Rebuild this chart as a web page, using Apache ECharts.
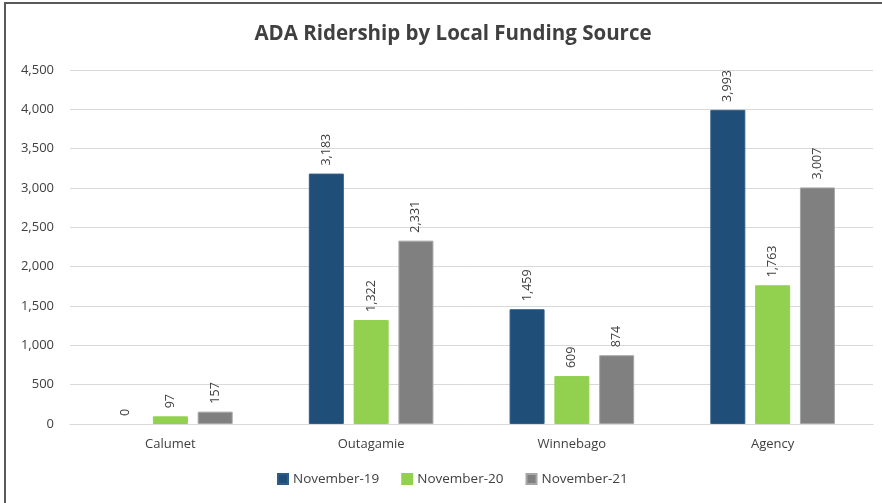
<!DOCTYPE html>
<html>
<head>
<meta charset="utf-8">
<script src="https://cdn.jsdelivr.net/npm/echarts@6/dist/echarts.min.js"></script>
<style>
    html, body { margin: 0; padding: 0; background: #fff; }
    #frame {
        position: absolute; left: 4px; top: 2px; width: 890px; height: 510px;
        border-left: 2px solid #595959; border-top: 2px solid #595959;
        box-sizing: border-box;
    }
    #chart { position: absolute; left: 0; top: 0; width: 882px; height: 503px; }
</style>
</head>
<body>
<div id="frame"></div>
<div id="chart"></div>
<script>
const categories = ['Calumet', 'Outagamie', 'Winnebago', 'Agency'];
const seriesNames = ['November-19', 'November-20', 'November-21'];
const nov19 = [0, 3183, 1459, 3993];
const nov20 = [97, 1322, 609, 1763];
const nov21 = [157, 2331, 874, 3007];
const colors = ['#1f4e79', '#92d050', '#808080'];
const borders = ['#2e5d87', '#92d050', '#a6a6a6'];

const fmt = (v) => v.toLocaleString('en-US');
const font = '"Open Sans", "Liberation Sans", sans-serif';

const makeSeries = (i, data) => ({
    name: seriesNames[i],
    type: 'bar',
    data: data.map(v => ({value: v, itemStyle: {borderWidth: v === 0 ? 0 : 1}})),
    barWidth: 35,
    barGap: '28%',
    itemStyle: {color: colors[i], borderColor: borders[i], borderWidth: 1},
    label: {
        show: true,
        position: 'top',
        rotate: 90,
        align: 'left',
        verticalAlign: 'middle',
        distance: 8,
        color: '#404040',
        fontSize: 12.5,
        fontFamily: font,
        formatter: (p) => fmt(p.value),
    },
});

const chart = echarts.init(document.getElementById('chart'));
chart.setOption({
    animation: false,
    title: {
        text: 'ADA Ridership by Local Funding Source',
        left: 448,
        textAlign: 'center',
        top: 19,
        textStyle: {color: '#404040', fontSize: 20.5, fontWeight: 'bold', fontFamily: font},
    },
    legend: {
        bottom: 12,
        left: 272,
        itemWidth: 10,
        itemHeight: 10,
        itemGap: 22,
        icon: 'rect',
        textStyle: {color: '#404040', fontSize: 13.5, fontFamily: font},
        data: seriesNames,
    },
    grid: {left: 70, right: 9, top: 70, bottom: 79, containLabel: false},
    xAxis: {
        type: 'category',
        data: categories,
        axisTick: {show: false},
        axisLine: {lineStyle: {color: '#d9d9d9'}},
        axisLabel: {color: '#404040', fontSize: 13, fontFamily: font, margin: 14},
    },
    yAxis: {
        type: 'value',
        min: 0,
        max: 4500,
        interval: 500,
        axisLine: {show: false},
        axisTick: {show: false},
        splitLine: {lineStyle: {color: '#d9d9d9'}},
        axisLabel: {color: '#404040', fontSize: 13, fontFamily: font, margin: 16, formatter: (v) => fmt(v)},
    },
    series: [
        makeSeries(0, nov19),
        makeSeries(1, nov20),
        makeSeries(2, nov21),
    ],
});
</script>
</body>
</html>
